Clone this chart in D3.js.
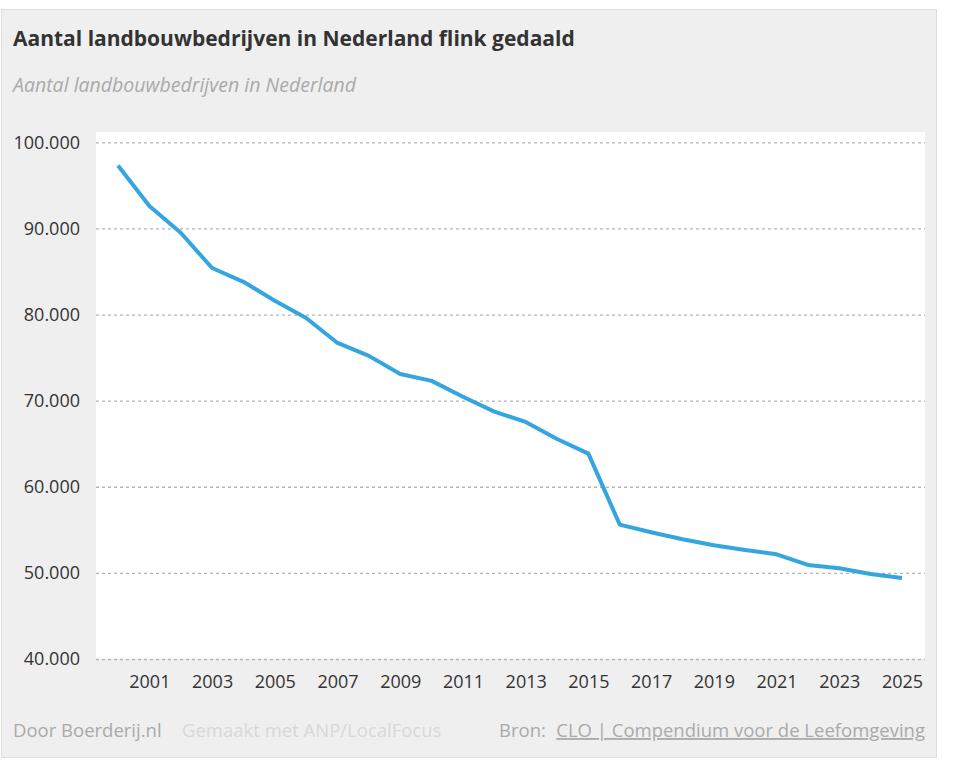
<!DOCTYPE html>
<html>
  <head>
    <meta charset="utf-8">
    <title>Aantal landbouwbedrijven in Nederland</title>
    <script src="https://d3js.org/d3.v7.min.js"></script>
    <style>
      body { margin: 0; background: #fff; font-family: "Open Sans", "Noto Sans", sans-serif; }
    </style>
  </head>
  <body>
    <div id="chart"></div>
    <script>
      // data
      var years = [2000, 2001, 2002, 2003, 2004, 2005, 2006, 2007, 2008, 2009,
                   2010, 2011, 2012, 2013, 2014, 2015, 2016, 2017, 2018, 2019,
                   2020, 2021, 2022, 2023, 2024, 2025];
      var bedrijven = [97300, 92600, 89500, 85400, 83800, 81600, 79600, 76700, 75200, 73100,
                       72300, 70450, 68720, 67530, 65550, 63850, 55600, 54720, 53900, 53210,
                       52660, 52160, 50920, 50530, 49870, 49400];
      var yTicks = [40000, 50000, 60000, 70000, 80000, 90000, 100000];
      var xTicks = [2001, 2003, 2005, 2007, 2009, 2011, 2013, 2015, 2017, 2019, 2021, 2023, 2025];

      var width = 961, height = 770;
      var plot = {left: 96, right: 925, top: 132, bottom: 659};

      var svg = d3.select("#chart").append("svg")
                  .attr("width", width)
                  .attr("height", height)
                  .style("font-family", "'Open Sans', sans-serif");

      // panel
      svg.append("rect")
         .attr("x", 1.5).attr("y", 9.5)
         .attr("width", 935).attr("height", 748)
         .attr("fill", "#efefef")
         .attr("stroke", "#dedede");

      svg.append("rect")
         .attr("x", plot.left).attr("y", plot.top)
         .attr("width", plot.right - plot.left).attr("height", plot.bottom - plot.top)
         .attr("fill", "#fff");

      svg.append("text")
         .attr("x", 13).attr("y", 46)
         .attr("fill", "#333")
         .style("font-size", "21px").style("font-weight", "bold")
         .text("Aantal landbouwbedrijven in Nederland flink gedaald");

      svg.append("text")
         .attr("x", 13).attr("y", 92)
         .attr("fill", "#aaa")
         .style("font-size", "19.5px").style("font-style", "italic")
         .text("Aantal landbouwbedrijven in Nederland");

      var x = d3.scaleLinear().domain([2000, 2025]).range([118, 902]);
      var y = d3.scaleLinear().domain([40000, 100000]).range([plot.bottom, 142.3]);

      var fmt = function(d) { return d3.format(",")(d).replace(/,/g, "."); };

      // grid + y labels
      var yAxis = svg.append("g")
                     .attr("transform", "translate(" + plot.left + ",0)")
                     .call(d3.axisLeft(y).tickValues(yTicks).tickFormat(fmt)
                             .tickSize(-(plot.right - plot.left)).tickPadding(16));
      yAxis.select(".domain").remove();
      yAxis.selectAll(".tick line")
           .attr("stroke", "#b5b5b5").attr("stroke-width", 1.3)
           .attr("stroke-dasharray", "3,3");
      yAxis.selectAll(".tick text")
           .attr("fill", "#333").style("font-size", "18px")
           .style("font-family", "'Open Sans', sans-serif");

      var xAxis = svg.append("g")
                     .attr("transform", "translate(0," + plot.bottom + ")")
                     .call(d3.axisBottom(x).tickValues(xTicks).tickFormat(d3.format("d"))
                             .tickSize(0).tickPadding(16));
      xAxis.select(".domain").remove();
      xAxis.selectAll(".tick text")
           .attr("fill", "#333").style("font-size", "18px")
           .style("font-family", "'Open Sans', sans-serif");

      var line = d3.line()
                   .x(function(d, i) { return x(years[i]); })
                   .y(function(d) { return y(d); });

      svg.append("path")
         .datum(bedrijven)
         .attr("d", line)
         .attr("fill", "none")
         .attr("stroke", "#35a5e0")
         .attr("stroke-width", 4)
         .attr("stroke-linejoin", "round");

      // footer
      svg.append("text")
         .attr("x", 13).attr("y", 737)
         .attr("fill", "#aaa").style("font-size", "18.5px")
         .text("Door Boerderij.nl");

      svg.append("text")
         .attr("x", 182).attr("y", 737)
         .attr("fill", "#d8d8d8").style("font-size", "18.5px")
         .text("Gemaakt met ANP/LocalFocus");

      svg.append("text")
         .attr("x", 925).attr("y", 737)
         .attr("text-anchor", "end")
         .attr("fill", "#aaa").style("font-size", "18.5px")
         .text("CLO | Compendium voor de Leefomgeving")
         .style("text-decoration", "underline");

      svg.append("text")
         .attr("x", 499).attr("y", 737)
         .attr("fill", "#aaa").style("font-size", "18.5px")
         .text("Bron:");
    </script>
  </body>
</html>
